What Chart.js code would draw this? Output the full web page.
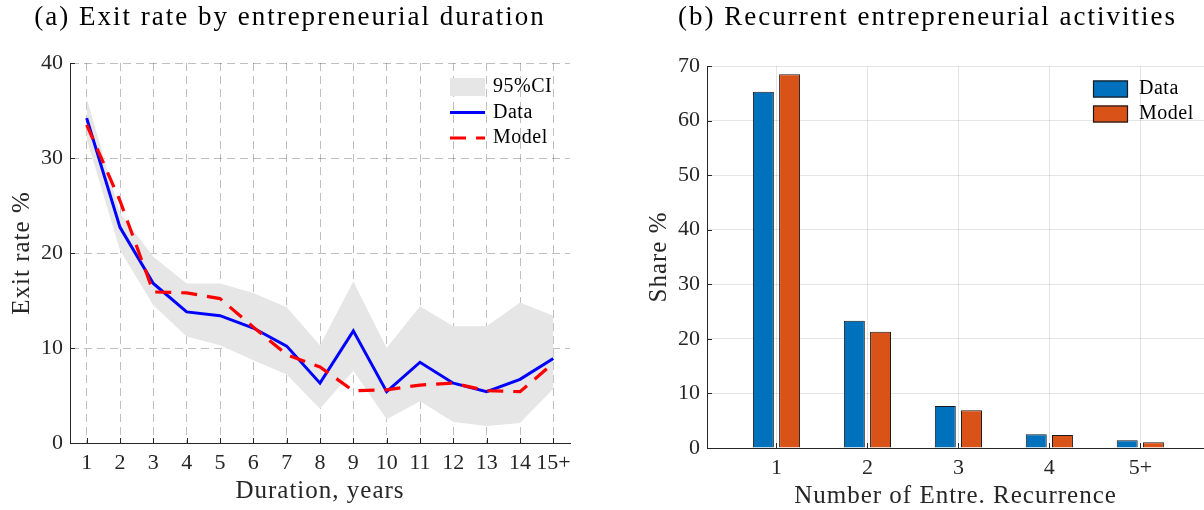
<!DOCTYPE html>
<html>
<head>
<meta charset="utf-8">
<script src="https://cdn.jsdelivr.net/npm/chart.js@4.4.1/dist/chart.umd.min.js"></script>
<style>
    html, body { margin: 0; padding: 0; background: #fff; }
    body { width: 1204px; height: 510px; position: relative; overflow: hidden; }
    canvas { position: absolute; top: 0; }
    #exitChart { left: 0; }
    #recChart { left: 604px; }
</style>
</head>
<body>
<canvas id="exitChart" width="604" height="510"></canvas>
<canvas id="recChart" width="600" height="510"></canvas>
<script>
// (a) exit rate by duration, %
const durations = [1, 2, 3, 4, 5, 6, 7, 8, 9, 10, 11, 12, 13, 14, 15];
const durationLabels = ['1', '2', '3', '4', '5', '6', '7', '8', '9', '10', '11', '12', '13', '14', '15+'];
const exitData  = [34.2, 22.7, 16.8, 13.8, 13.4, 12.1, 10.2, 6.3, 11.8, 5.4, 8.5, 6.3, 5.4, 6.7, 8.9];
const exitModel = [33.5, 25.5, 15.9, 15.8, 15.2, 12.2, 9.3, 8.0, 5.5, 5.6, 6.1, 6.3, 5.5, 5.4, 8.4];
const ciUpper   = [36.3, 24.2, 19.6, 16.8, 16.8, 15.8, 14.3, 10.3, 17.0, 10.0, 14.4, 12.3, 12.3, 14.8, 13.4];
const ciLower   = [32.0, 20.3, 14.5, 11.2, 10.3, 8.7, 7.2, 3.6, 7.6, 2.5, 4.4, 2.2, 1.8, 2.1, 5.7];
const exitTicks = [0, 10, 20, 30, 40];

// (b) recurrence shares, %
const recCategories = [1, 2, 3, 4, 5];
const recLabels = ['1', '2', '3', '4', '5+'];
const recData  = [65.3, 23.3, 7.7, 2.5, 1.4];
const recModel = [68.5, 21.3, 6.9, 2.4, 1.05];
const shareTicks = [0, 10, 20, 30, 40, 50, 60, 70];

const SERIF = '"Liberation Serif", "Times New Roman", serif';
const AXIS_COLOR = '#262626';

Chart.defaults.font.family = SERIF;
Chart.defaults.color = AXIS_COLOR;

function points(xs, ys) {
    return xs.map((x, i) => ({ x: x, y: ys[i] }));
}

// title and axis titles
const axisText = {
    id: 'axisText',
    afterDraw(chart, args, opts) {
        const ctx = chart.ctx;
        const a = chart.chartArea;
        const cx = (a.left + a.right) / 2;
        ctx.save();
        ctx.textAlign = 'center';
        ctx.textBaseline = 'alphabetic';
        ctx.fillStyle = '#000';
        ctx.font = '27px ' + SERIF;
        ctx.letterSpacing = '2px';
        ctx.fillText(opts.title, cx + opts.titleShift, 25);
        ctx.fillStyle = AXIS_COLOR;
        ctx.font = '25px ' + SERIF;
        ctx.letterSpacing = '1px';
        ctx.fillText(opts.xTitle, cx, a.bottom + 55);
        ctx.translate(a.left - 41, (a.top + a.bottom) / 2);
        ctx.rotate(-Math.PI / 2);
        ctx.fillText(opts.yTitle, 0, 0);
        ctx.restore();
    }
};

// short tick marks pointing into the plot
const innerTicks = {
    id: 'innerTicks',
    afterDraw(chart) {
        const ctx = chart.ctx;
        const a = chart.chartArea;
        const xs = chart.scales.x, ys = chart.scales.y;
        ctx.save();
        ctx.strokeStyle = AXIS_COLOR;
        ctx.lineWidth = 1;
        ctx.beginPath();
        xs.ticks.forEach(t => {
            const px = Math.round(xs.getPixelForValue(t.value)) + 0.5;
            ctx.moveTo(px, a.bottom);
            ctx.lineTo(px, a.bottom - 5);
        });
        ys.ticks.forEach(t => {
            const py = Math.round(ys.getPixelForValue(t.value)) + 0.5;
            ctx.moveTo(a.left, py);
            ctx.lineTo(a.left + 5, py);
        });
        ctx.stroke();
        ctx.restore();
    }
};

// legend box in the upper right of the plot
const boxLegend = {
    id: 'boxLegend',
    afterDraw(chart, args, opts) {
        const ctx = chart.ctx;
        ctx.save();
        ctx.font = '20px ' + SERIF;
        ctx.letterSpacing = '0.5px';
        ctx.textBaseline = 'middle';
        opts.items.forEach((it, i) => {
            const ds = chart.data.datasets[it.ds];
            const y = opts.y + i * opts.rowHeight;
            if (it.kind === 'patch') {
                ctx.fillStyle = ds.backgroundColor;
                ctx.fillRect(opts.x, y - opts.patchH / 2, 35, opts.patchH);
                if (ds.borderWidth) {
                    ctx.strokeStyle = ds.borderColor;
                    ctx.lineWidth = 1.2;
                    ctx.strokeRect(opts.x + 0.5, y - opts.patchH / 2 + 0.5, 34, opts.patchH - 1);
                }
            } else {
                ctx.strokeStyle = ds.borderColor;
                ctx.lineWidth = ds.borderWidth;
                ctx.setLineDash(ds.borderDash || []);
                ctx.beginPath();
                ctx.moveTo(opts.x, y);
                ctx.lineTo(opts.x + 35, y);
                ctx.stroke();
                ctx.setLineDash([]);
            }
            ctx.fillStyle = '#000';
            ctx.fillText(ds.label, opts.x + opts.textGap, y);
        });
        ctx.restore();
    }
};

const tickFont = { family: SERIF, size: 22 };

new Chart(document.getElementById('exitChart'), {
    type: 'line',
    data: {
        datasets: [
            { label: 'Model', data: points(durations, exitModel), borderColor: '#ff0000', borderWidth: 3.2,
              borderDash: [16, 10], pointRadius: 0, fill: false, order: 0 },
            { label: 'Data', data: points(durations, exitData), borderColor: '#0000ff', borderWidth: 3,
              pointRadius: 0, fill: false, order: 1 },
            { label: '95%CI upper', data: points(durations, ciUpper), borderColor: 'rgba(0,0,0,0)', borderWidth: 0,
              pointRadius: 0, fill: false, order: 2 },
            { label: '95%CI', data: points(durations, ciLower), borderColor: 'rgba(0,0,0,0)', borderWidth: 0,
              backgroundColor: '#e6e6e6', pointRadius: 0, fill: '-1', order: 2 }
        ]
    },
    options: {
        responsive: false,
        animation: false,
        layout: { padding: { top: 63, right: 34, left: 0, bottom: 0 } },
        scales: {
            x: {
                type: 'linear', min: 0.5, max: 15.5,
                afterBuildTicks: s => { s.ticks = durations.map(v => ({ value: v })); },
                afterFit: s => { s.height = 67; },
                ticks: { autoSkip: false, maxRotation: 0, padding: 7, font: tickFont, color: AXIS_COLOR,
                         callback: (v, i) => durationLabels[i] },
                grid: { color: 'rgba(0,0,0,0.25)', lineWidth: 1, drawTicks: false },
                border: { color: AXIS_COLOR, width: 1, dash: [8, 5] }
            },
            y: {
                min: 0, max: 40,
                afterBuildTicks: s => { s.ticks = exitTicks.map(v => ({ value: v })); },
                afterFit: s => { s.width = 70; },
                ticks: { padding: 7, font: tickFont, color: AXIS_COLOR },
                grid: { color: 'rgba(0,0,0,0.25)', lineWidth: 1, drawTicks: false },
                border: { color: AXIS_COLOR, width: 1, dash: [8, 5] }
            }
        },
        plugins: {
            legend: { display: false },
            tooltip: { enabled: false },
            axisText: { title: '(a) Exit rate by entrepreneurial duration', titleShift: -30,
                        xTitle: 'Duration, years', yTitle: 'Exit rate %' },
            boxLegend: { x: 450, y: 87, rowHeight: 25.5, patchH: 18, textGap: 43,
                         items: [{ ds: 3, kind: 'patch' }, { ds: 1, kind: 'line' }, { ds: 0, kind: 'line' }] }
        }
    },
    plugins: [axisText, innerTicks, boxLegend]
});

new Chart(document.getElementById('recChart'), {
    type: 'bar',
    data: {
        datasets: [
            { label: 'Data', data: points(recCategories, recData), backgroundColor: '#0072bd',
              borderColor: '#1a1a1a', borderWidth: 1 },
            { label: 'Model', data: points(recCategories, recModel), backgroundColor: '#d95319',
              borderColor: '#1a1a1a', borderWidth: 1 }
        ]
    },
    options: {
        responsive: false,
        animation: false,
        categoryPercentage: 0.576,
        barPercentage: 0.8,
        layout: { padding: { top: 66, right: 0, left: 0, bottom: 0 } },
        scales: {
            x: {
                type: 'linear', min: 0.236, max: 5.70, offset: false,
                afterBuildTicks: s => { s.ticks = recCategories.map(v => ({ value: v })); },
                afterFit: s => { s.height = 62; },
                ticks: { autoSkip: false, maxRotation: 0, padding: 7, font: tickFont, color: AXIS_COLOR,
                         callback: (v, i) => recLabels[i] },
                grid: { color: 'rgba(0,0,0,0.1)', lineWidth: 1, drawTicks: false, offset: false },
                border: { color: AXIS_COLOR, width: 1 }
            },
            y: {
                min: 0, max: 70,
                afterBuildTicks: s => { s.ticks = shareTicks.map(v => ({ value: v })); },
                afterFit: s => { s.width = 103; },
                ticks: { padding: 7, font: tickFont, color: AXIS_COLOR },
                grid: { color: 'rgba(0,0,0,0.1)', lineWidth: 1, drawTicks: false },
                border: { color: AXIS_COLOR, width: 1 }
            }
        },
        plugins: {
            legend: { display: false },
            tooltip: { enabled: false },
            axisText: { title: '(b) Recurrent entrepreneurial activities', titleShift: -28,
                        xTitle: 'Number of Entre. Recurrence', yTitle: 'Share %' },
            boxLegend: { x: 489, y: 89, rowHeight: 25, patchH: 17, textGap: 46,
                         items: [{ ds: 0, kind: 'patch' }, { ds: 1, kind: 'patch' }] }
        }
    },
    plugins: [axisText, innerTicks, boxLegend]
});
</script>
</body>
</html>
